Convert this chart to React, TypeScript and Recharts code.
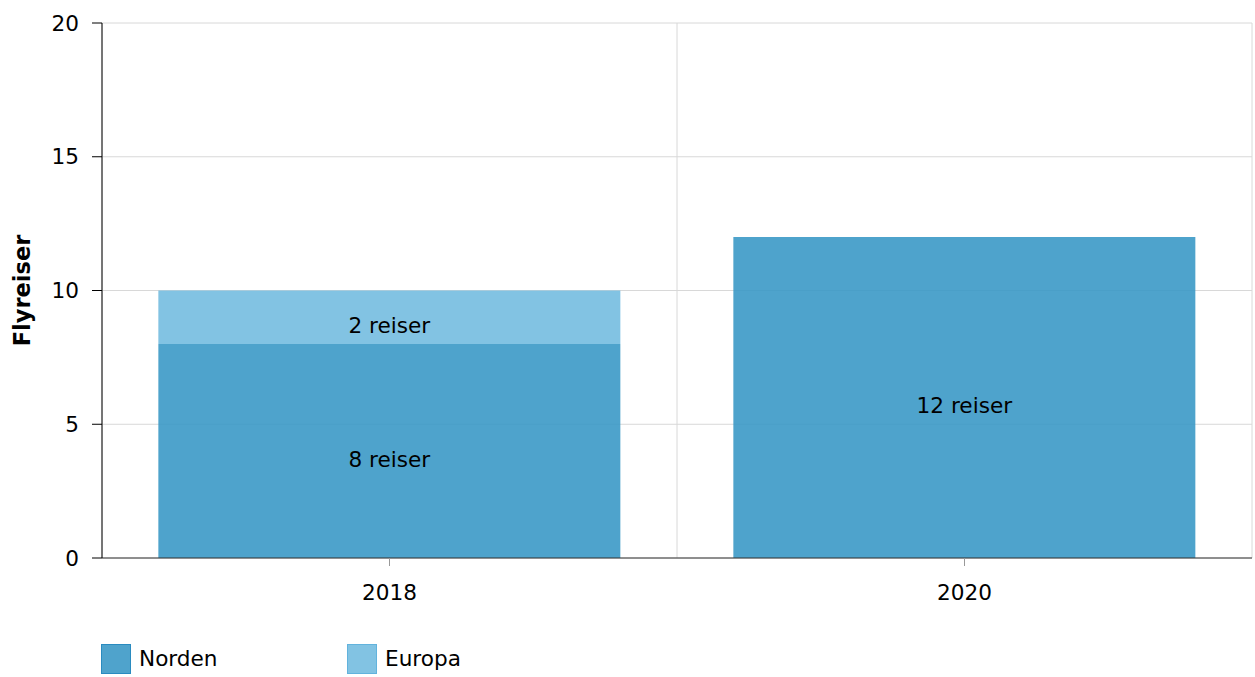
import React from 'react';
import { BarChart, Bar, XAxis, YAxis, CartesianGrid, LabelList } from 'recharts';

const categories = ['2018', '2020'];
const nordenValues = [8, 12];
const europaValues: (number | null)[] = [2, null];
const yTicks = [0, 5, 10, 15, 20];
const seriesNames = ['Norden', 'Europa'];
const yLabel = 'Flyreiser';

const data = categories.map((c, i) => ({
  year: c,
  idx: i + 0.5,
  norden: nordenValues[i],
  europa: europaValues[i],
}));

const FONT = 'DejaVu Sans, Verdana, sans-serif';
const FS = 21.6;

const colors = {
  norden: '#3b99c6',
  europa: '#74bce0',
};
const legendColors = [
  { fill: '#4fa3cc', stroke: '#2a8bc0' },
  { fill: '#82c3e3', stroke: '#62b3dd' },
];

const YLabel = (props: any) => {
  const vb = props.viewBox || {};
  const x = (vb.x ?? 0) + 22;
  const y = (vb.y ?? 0) + (vb.height ?? 0) / 2;
  return (
    <text
      x={x}
      y={y}
      transform={`rotate(-90, ${x}, ${y})`}
      textAnchor="middle"
      dominantBaseline="central"
      fontFamily={FONT}
      fontSize={22.5}
      fontWeight="bold"
      fill="#000"
    >
      {yLabel}
    </text>
  );
};

export default function App() {
  return (
    <div style={{ position: 'absolute', left: 0, top: 0, width: 1255, height: 677, background: '#fff' }}>
      <BarChart
        width={1255}
        height={677}
        data={data}
        margin={{ top: 23, right: 3, left: 0, bottom: 59 }}
        barCategoryGap="9.8%"
      >
        <XAxis xAxisId="grid" type="number" dataKey="idx" domain={[0, 2]} ticks={[0, 1, 2]} hide />
        <CartesianGrid xAxisId="grid" stroke="#d8d8d8" strokeWidth={1} />
        <XAxis
          dataKey="year"
          height={60}
          tickSize={8}
          tickMargin={19}
          axisLine={{ stroke: '#333', strokeWidth: 1 }}
          tickLine={{ stroke: '#999' }}
          tick={{ fill: '#000', fontFamily: FONT, fontSize: FS }}
        />
        <YAxis
          width={102}
          domain={[0, 20]}
          ticks={yTicks}
          tickSize={10}
          tickMargin={13}
          axisLine={{ stroke: '#000', strokeWidth: 1 }}
          tickLine={{ stroke: '#000' }}
          tick={{ fill: '#000', fontFamily: FONT, fontSize: FS }}
          label={<YLabel />}
        />
        <Bar dataKey="norden" stackId="a" fill={colors.norden} fillOpacity={0.9} isAnimationActive={false}>
          <LabelList
            dataKey="norden"
            position="center"
            dy={8}
            formatter={(v: any) => (v == null ? '' : `${v} reiser`)}
            style={{ fill: '#000', fontFamily: FONT, fontSize: FS }}
          />
        </Bar>
        <Bar dataKey="europa" stackId="a" fill={colors.europa} fillOpacity={0.9} isAnimationActive={false}>
          <LabelList
            dataKey="europa"
            position="center"
            dy={8}
            formatter={(v: any) => (v == null ? '' : `${v} reiser`)}
            style={{ fill: '#000', fontFamily: FONT, fontSize: FS }}
          />
        </Bar>
      </BarChart>
      <div style={{ position: 'absolute', left: 101, top: 644, display: 'flex', fontFamily: FONT, fontSize: FS }}>
        {seriesNames.map((name, i) => (
          <div key={name} style={{ display: 'flex', alignItems: 'center', width: 246 }}>
            <div
              style={{
                width: 28,
                height: 28,
                background: legendColors[i].fill,
                border: `1px solid ${legendColors[i].stroke}`,
                marginRight: 8,
              }}
            />
            <span style={{ color: '#000', lineHeight: '30px' }}>{name}</span>
          </div>
        ))}
      </div>
    </div>
  );
}
